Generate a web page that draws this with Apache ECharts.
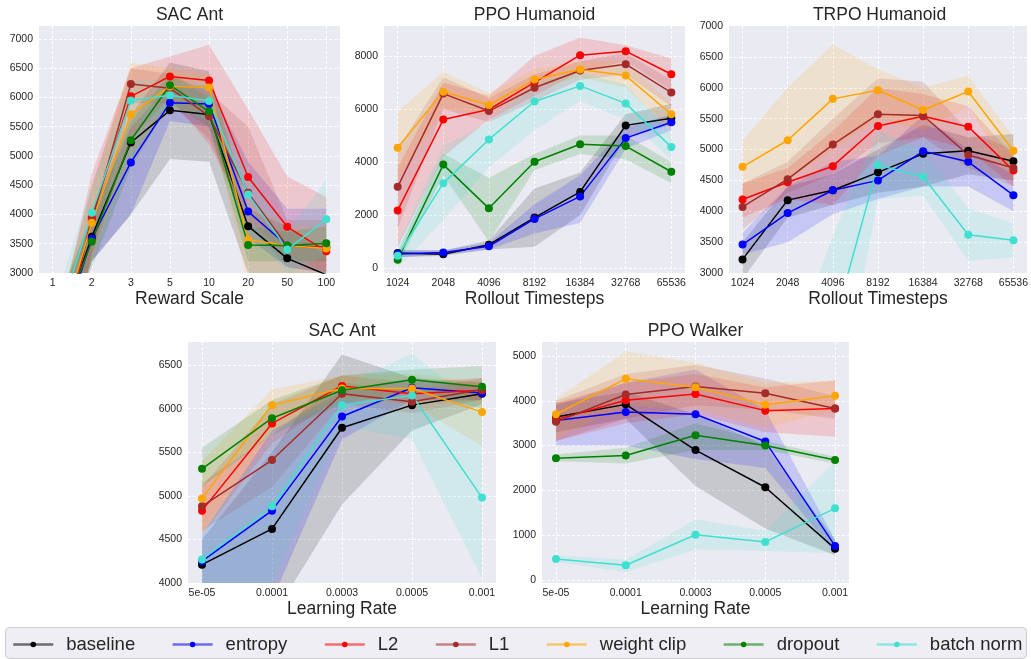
<!DOCTYPE html>
<html>
<head>
<meta charset="utf-8">
<script src="https://cdn.jsdelivr.net/npm/echarts@6/dist/echarts.min.js"></script>
<style>
  html, body { margin: 0; padding: 0; background: #ffffff; }
  #chart { width: 1031px; height: 659px; }
</style>
</head>
<body>
<div id="chart"></div>
<script>
// Regularization methods, in plotting order
const methods = ['baseline', 'entropy', 'L2', 'L1', 'weight clip', 'dropout', 'batch norm'];
const methodColors = ['#000000', '#0000ff', '#ff0000', '#a52a2a', '#ffa500', '#008000', '#40e0d0'];

// ---- SAC Ant, reward scale sweep (rows follow `methods`) ----
const rewardScales = ['1', '2', '3', '5', '10', '20', '50', '100'];
const sacRewardMean = [
  [1700, 3620, 5230, 5780, 5710, 3800, 3250, 2970],
  [1500, 3590, 4890, 5910, 5890, 4050, 3470, 3430],
  [1100, 3950, 6020, 6360, 6290, 4640, 3790, 3370],
  [1400, 3900, 6230, 6160, 5680, 4370, 3460, 3450],
  [1600, 3860, 5710, 6190, 6170, 3570, 3470, 3420],
  [1800, 3540, 5270, 6210, 5760, 3480, 3470, 3510],
  [1900, 4030, 5950, 6040, 5940, 4340, 3400, 3920]
];
const sacRewardLow = [
  [1200, 3200, 4000, 4950, 4900, 3000, 2800, 2500],
  [1000, 3200, 4000, 5600, 5500, 3600, 3100, 3000],
  [600, 3300, 5300, 6000, 5200, 3900, 3300, 3000],
  [900, 3300, 5900, 5900, 5300, 3800, 3100, 3000],
  [1100, 3200, 5000, 5800, 5700, 2800, 3000, 3000],
  [1300, 3100, 4800, 5900, 5500, 3200, 3200, 3200],
  [1400, 3500, 5500, 5800, 5600, 3800, 3000, 3300]
];
const sacRewardHigh = [
  [2200, 4000, 5700, 6600, 6450, 4100, 3800, 3300],
  [2000, 4000, 5500, 6200, 6200, 4900, 4100, 4100],
  [1700, 4700, 6500, 6700, 6900, 5800, 4650, 4300],
  [1900, 4500, 6500, 6400, 6100, 5500, 3900, 3900],
  [2100, 4400, 6600, 6500, 6400, 4200, 3800, 3800],
  [2300, 4000, 5600, 6400, 6000, 3800, 3700, 3800],
  [2400, 4500, 6300, 6300, 6200, 4800, 3700, 4600]
];

// ---- PPO Humanoid, rollout length sweep ----
const rolloutSteps = ['1024', '2048', '4096', '8192', '16384', '32768', '65536'];
const ppoRolloutMean = [
  [560, 520, 880, 1900, 2870, 5380, 5650],
  [530, 580, 820, 1850, 2700, 4900, 5500],
  [2170, 5600, 5980, 7000, 8030, 8180, 7310],
  [3060, 6580, 5920, 6800, 7450, 7690, 6620],
  [4540, 6650, 6150, 7110, 7490, 7260, 5800],
  [310, 3900, 2250, 4010, 4670, 4600, 3630],
  [460, 3200, 4850, 6280, 6870, 6210, 4560]
];
const ppoRolloutLow = [
  [400, 450, 700, 800, 2000, 4900, 5400],
  [400, 500, 700, 1300, 1700, 4500, 5200],
  [800, 4200, 5600, 6500, 7400, 7800, 6700],
  [1500, 6000, 5500, 6300, 7100, 7300, 6100],
  [3300, 6000, 5800, 6800, 7200, 6800, 5200],
  [100, 3500, 1000, 3700, 4300, 4100, 3200],
  [0, 1800, 3800, 5200, 6300, 5600, 4100]
];
const ppoRolloutHigh = [
  [700, 650, 1050, 3000, 3600, 5800, 6200],
  [650, 680, 950, 2400, 3500, 5300, 5800],
  [3800, 7000, 6500, 8000, 8700, 8400, 7900],
  [4500, 7200, 6400, 7300, 7800, 8100, 7100],
  [5900, 7400, 6600, 7500, 7800, 7800, 6200],
  [600, 4300, 3400, 4300, 5000, 5000, 4000],
  [900, 4600, 5500, 7000, 7400, 6900, 5100]
];

// ---- TRPO Humanoid, rollout length sweep (no dropout run) ----
const trpoRolloutMean = [
  [3220, 4180, 4340, 4630, 4930, 4980, 4810],
  [3460, 3970, 4340, 4500, 4970, 4800, 4260],
  [4190, 4470, 4730, 5380, 5540, 5370, 4660],
  [4070, 4520, 5080, 5570, 5550, 4910, 4700],
  [4720, 5150, 5820, 5960, 5640, 5940, 4980],
  [null, null, null, null, null, null, null],
  [1100, 1200, 2100, 4750, 4560, 3620, 3530]
];
const trpoRolloutLow = [
  [2900, 3900, 4100, 4300, 4400, 4600, 4500],
  [3300, 3500, 3950, 4200, 4400, 4400, 4000],
  [3900, 4200, 4100, 4900, 5200, 5000, 4400],
  [3700, 4300, 4600, 5100, 5200, 4700, 4400],
  [4200, 4500, 5000, 5500, 5300, 5700, 4500],
  [null, null, null, null, null, null, null],
  [700, 800, 300, 4200, 4250, 3200, 3250]
];
const trpoRolloutHigh = [
  [3500, 4400, 4600, 5000, 5400, 5200, 5250],
  [3650, 4400, 4800, 4900, 5550, 5000, 4600],
  [4450, 4700, 5300, 6000, 5900, 5700, 4900],
  [4450, 4800, 5500, 6150, 6100, 5300, 5000],
  [5150, 6000, 6700, 6300, 6000, 6200, 5200],
  [null, null, null, null, null, null, null],
  [1500, 1600, 3600, 5300, 5000, 4050, 3800]
];

// ---- SAC Ant, learning rate sweep ----
const learningRates = ['5e-05', '0.0001', '0.0003', '0.0005', '0.001'];
const sacLrMean = [
  [4210, 4620, 5780, 6040, 6170],
  [4250, 4830, 5910, 6240, 6180],
  [4830, 5830, 6260, 6170, 6210],
  [4880, 5410, 6170, 6080, 6220],
  [4970, 6040, 6230, 6230, 5960],
  [5310, 5890, 6210, 6330, 6250],
  [4270, 4880, 6040, 6150, 4980]
];
const sacLrLow = [
  [3000, 3600, 4900, 5750, 6050],
  [3400, 3800, 5650, 6100, 6100],
  [4550, 5600, 6150, 6050, 6100],
  [4600, 5100, 6050, 5950, 6100],
  [4550, 5750, 6100, 6050, 5570],
  [5100, 5700, 6050, 6200, 6000],
  [3900, 4000, 5800, 5650, 4050]
];
const sacLrHigh = [
  [4500, 5500, 6620, 6350, 6300],
  [4550, 5750, 6200, 6350, 6260],
  [5100, 6050, 6380, 6300, 6350],
  [5150, 5700, 6300, 6200, 6350],
  [5400, 6220, 6380, 6400, 6300],
  [5550, 6100, 6380, 6450, 6490],
  [4600, 5700, 6250, 6630, 6000]
];

// ---- PPO Walker, learning rate sweep ----
const walkerLrMean = [
  [3640, 3920, 2900, 2070, 700],
  [3560, 3750, 3700, 3090, 760],
  [3580, 4010, 4150, 3780, 3830],
  [3530, 4140, 4320, 4170, 3830],
  [3700, 4490, 4300, 3910, 4110],
  [2720, 2780, 3230, 3000, 2680],
  [470, 330, 1010, 850, 1600]
];
const walkerLrLow = [
  [3300, 3600, 2100, 1150, 550],
  [3000, 3000, 2700, 2500, 600],
  [3100, 3500, 3700, 3300, 3200],
  [3100, 3600, 3900, 3800, 3600],
  [3150, 3900, 3800, 3400, 3800],
  [2650, 2600, 2900, 2900, 2600],
  [400, 180, 680, 650, 600]
];
const walkerLrHigh = [
  [3950, 4200, 3700, 3000, 900],
  [3900, 4400, 4700, 3800, 900],
  [3950, 4400, 4600, 4300, 4450],
  [4000, 4600, 4800, 4500, 4100],
  [4050, 5100, 4850, 4400, 4450],
  [2800, 2950, 3500, 3100, 2750],
  [560, 450, 1350, 1100, 2650]
];

// ---- panel layout ----
const FONT = "'Liberation Sans', Arial, Helvetica, sans-serif";
const TEXT = '#262626';
const panels = [
  { title: 'SAC Ant', xName: 'Reward Scale', cats: rewardScales,
    mean: sacRewardMean, low: sacRewardLow, high: sacRewardHigh,
    box: { left: 39, top: 26, width: 301, height: 247 }, pad: 0.35, yMin: 3000, yMax: 7222, yStep: 500 },
  { title: 'PPO Humanoid', xName: 'Rollout Timesteps', cats: rolloutSteps,
    mean: ppoRolloutMean, low: ppoRolloutLow, high: ppoRolloutHigh,
    box: { left: 384, top: 26, width: 301, height: 247 }, pad: 0.3, yMin: -190, yMax: 9130, yStep: 2000 },
  { title: 'TRPO Humanoid', xName: 'Rollout Timesteps', cats: rolloutSteps,
    mean: trpoRolloutMean, low: trpoRolloutLow, high: trpoRolloutHigh,
    box: { left: 729, top: 26, width: 301, height: 247 }, pad: 0.3, yMin: 3000, yMax: 7000, yStep: 500 },
  { title: 'SAC Ant', xName: 'Learning Rate', cats: learningRates,
    mean: sacLrMean, low: sacLrLow, high: sacLrHigh,
    box: { left: 188, top: 342, width: 308, height: 241 }, pad: 0.2, yMin: 4000, yMax: 6764, yStep: 500 },
  { title: 'PPO Walker', xName: 'Learning Rate', cats: learningRates,
    mean: walkerLrMean, low: walkerLrLow, high: walkerLrHigh,
    box: { left: 542, top: 342, width: 307, height: 241 }, pad: 0.2, yMin: -67, yMax: 5312, yStep: 1000 }
];

function rgba(hex, a) {
  const n = parseInt(hex.slice(1), 16);
  return 'rgba(' + (n >> 16) + ',' + ((n >> 8) & 255) + ',' + (n & 255) + ',' + a + ')';
}
function onStep(v, step) {
  return Math.abs(v / step - Math.round(v / step)) < 1e-6;
}

const grids = [], xAxes = [], yAxes = [], titles = [], series = [];
const dashed = { color: '#ffffff', width: 1, type: [3, 2] };

panels.forEach((p, g) => {
  grids.push(Object.assign({ show: true, backgroundColor: '#eaeaf2', borderWidth: 0, containLabel: false }, p.box));
  const n = p.cats.length;
  xAxes.push({
    type: 'value', gridIndex: g, min: -p.pad, max: n - 1 + p.pad,
    minInterval: 1, maxInterval: 1,
    name: p.xName, nameLocation: 'middle', nameGap: 16,
    nameTextStyle: { fontSize: 17.5, color: TEXT, fontFamily: FONT },
    axisLine: { show: false }, axisTick: { show: false },
    axisLabel: {
      margin: 5, fontSize: 10.5, color: TEXT, fontFamily: FONT,
      formatter: v => { const i = Math.round(v); return Math.abs(v - i) < 1e-6 && p.cats[i] != null ? p.cats[i] : ''; }
    },
    splitLine: { show: true, lineStyle: dashed, showMinLine: false, showMaxLine: false }
  });
  yAxes.push({
    type: 'value', gridIndex: g, min: p.yMin, max: p.yMax,
    minInterval: p.yStep, maxInterval: p.yStep,
    axisLine: { show: false }, axisTick: { show: false },
    axisLabel: {
      margin: 6, fontSize: 10.5, color: TEXT, fontFamily: FONT,
      formatter: v => onStep(v, p.yStep) ? String(Math.round(v)) : ''
    },
    splitLine: { show: true, lineStyle: dashed, showMinLine: onStep(p.yMin, p.yStep), showMaxLine: false }
  });
  titles.push({
    text: p.title, left: p.box.left + p.box.width / 2, top: p.box.top - 20, textAlign: 'center', padding: 0,
    textStyle: { fontSize: 17.5, fontWeight: 'normal', color: TEXT, fontFamily: FONT }
  });

  p.mean.forEach((vals, m) => {
    if (vals.every(v => v == null)) return;
    const lo = p.low[m], hi = p.high[m], color = methodColors[m];
    // shaded spread band between the low and high curves
    series.push({
      type: 'custom', name: 'spread-' + g + '-' + m, xAxisIndex: g, yAxisIndex: g,
      clip: true, silent: true, z: 1,
      data: vals.map((v, i) => [i, lo[i], hi[i]]),
      encode: { x: 0, y: [1, 2] },
      renderItem: (params, api) => {
        if (params.dataIndex !== 0) return null;
        const up = [], dn = [];
        for (let i = 0; i < n; i++) {
          if (hi[i] == null || lo[i] == null) continue;
          up.push(api.coord([i, hi[i]]));
          dn.push(api.coord([i, lo[i]]));
        }
        return { type: 'polygon', shape: { points: up.concat(dn.reverse()) }, style: { fill: rgba(color, 0.15) } };
      }
    });
    // mean curve with markers
    series.push({
      type: 'line', name: methods[m], xAxisIndex: g, yAxisIndex: g, z: 3,
      data: vals.map((v, i) => [i, v]),
      symbol: 'circle', symbolSize: 8, showSymbol: true, clip: true, connectNulls: false,
      lineStyle: { color: color, width: 1.5 },
      itemStyle: { color: color },
      emphasis: { disabled: true }
    });
  });
});

const chart = echarts.init(document.getElementById('chart'), null, { renderer: 'canvas' });
chart.setOption({
  backgroundColor: '#ffffff',
  animation: false,
  textStyle: { fontFamily: FONT },
  title: titles,
  grid: grids,
  xAxis: xAxes,
  yAxis: yAxes,
  graphic: [{
    type: 'rect', z: 0, silent: true,
    shape: { x: 5.5, y: 627.5, width: 1021, height: 31, r: 4 },
    style: { fill: '#eeeef4', stroke: '#cccccc', lineWidth: 1 }
  }],
  legend: {
    data: methods, left: 12, top: 635, width: 1019, orient: 'horizontal', padding: 0,
    itemGap: 36.2, itemWidth: 40, itemHeight: 7, selectedMode: false, z: 5,
    lineStyle: { opacity: 0.55, width: 2.5 },
    textStyle: { fontSize: 18.5, color: TEXT, fontFamily: FONT, padding: [0, 0, 0, 8] }
  },
  series: series
});
</script>
</body>
</html>
